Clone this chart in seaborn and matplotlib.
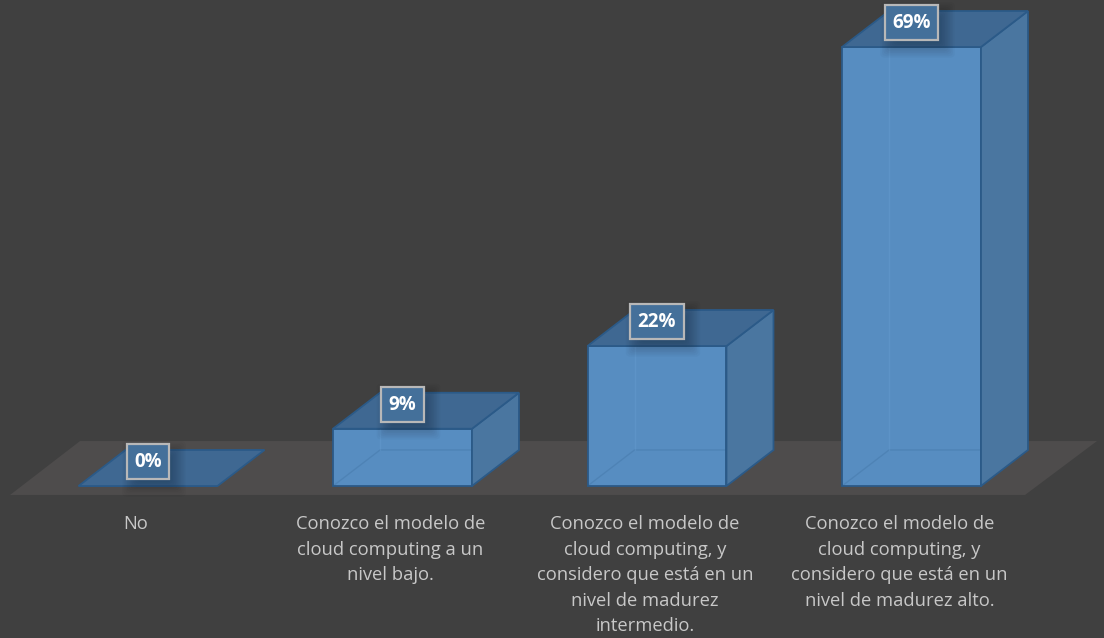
import matplotlib
matplotlib.use("Agg")
import matplotlib.pyplot as plt
from matplotlib.patches import Polygon, FancyBboxPatch
import seaborn as sns

# Survey answers and share of respondents (%)
categories = [
    "No",
    "Conozco el modelo de\ncloud computing a un\nnivel bajo.",
    "Conozco el modelo de\ncloud computing, y\nconsidero que está en un\nnivel de madurez\nintermedio.",
    "Conozco el modelo de\ncloud computing, y\nconsidero que está en un\nnivel de madurez alto.",
]
values = [0, 9, 22, 69]
value_labels = ["0%", "9%", "22%", "69%"]

BG = "#404040"
FLOOR = "#4E4C4C"
FRONT = "#578DC1"
TOP = "#3F6892"
SIDE = "#4A76A0"
EDGE = "#2B5A88"
TEXT = "#C8C8C8"

sns.set_theme(style="dark")
plt.rcParams["font.family"] = ["Open Sans", "DejaVu Sans"]

fig = plt.figure(figsize=(11.04, 6.38), dpi=100, facecolor=BG)
ax = fig.add_axes([0, 0, 1, 1])
ax.set_facecolor(BG)

bar_w = 0.546
# oblique depth of the 3-D extrusion, in data units
ddx, ddy = 0.1847, 5.66

sns.barplot(x=list(range(len(values))), y=values, ax=ax, color=FRONT,
            saturation=1, width=bar_w, edgecolor=EDGE, linewidth=1.3,
            zorder=3)
bars = list(ax.patches)

ax.set_xlim(-0.5815, 3.7564)
ax.set_ylim(-23.89, 76.39)
ax.axis("off")

# floor plane
ax.add_patch(Polygon([(-0.542, -1.41), (3.446, -1.41), (3.729, 7.07), (-0.267, 7.07)],
                     closed=True, facecolor=FLOOR, edgecolor="none", zorder=1))

renderer = fig.canvas.get_renderer()
inv = ax.transData.inverted()

for i, p in enumerate(bars):
    x0 = p.get_x()
    w = p.get_width()
    h = p.get_height()
    x1 = x0 + w
    # hidden back edges, faintly visible through the translucent box
    ax.plot([x0, x0 + ddx, x1 + ddx], [0, ddy, ddy], color=EDGE, lw=1.0,
            alpha=0.2, zorder=3.5)
    ax.plot([x0 + ddx, x0 + ddx], [ddy, h + ddy], color="#6FA6DA", lw=1.0,
            alpha=0.25, zorder=3.5)
    # side face
    if h > 0:
        ax.add_patch(Polygon([(x1, 0), (x1 + ddx, ddy), (x1 + ddx, h + ddy), (x1, h)],
                             closed=True, facecolor=SIDE, edgecolor=EDGE,
                             lw=1.3, zorder=4))
    # top face
    ax.add_patch(Polygon([(x0, h), (x1, h), (x1 + ddx, h + ddy), (x0 + ddx, h + ddy)],
                         closed=True, facecolor=TOP, edgecolor=EDGE,
                         lw=1.3, zorder=4))

    # value label in a framed box
    cx = x0 + w / 2
    cy = h + 3.8
    t = ax.text(cx, cy, value_labels[i], fontsize=13.5, fontweight="bold",
                color="white", ha="center", va="center", zorder=6,
                bbox=dict(boxstyle="square,pad=0.4", facecolor="#44709A",
                          edgecolor="#B8B8B8", linewidth=1.6))
    fig.canvas.draw()
    bb = t.get_bbox_patch().get_window_extent(renderer)
    # soft drop shadow beneath the label box
    for k in range(10):
        g = 1.6 * k - 4
        (ax_, ay_) = inv.transform((bb.x0 + 6 - g, bb.y0 - 7 - g))
        (bx_, by_) = inv.transform((bb.x1 + 6 + g, bb.y1 - 7 + g))
        ax.add_patch(FancyBboxPatch((ax_, ay_), bx_ - ax_, by_ - ay_,
                                    boxstyle="round,pad=0,rounding_size=0.02",
                                    mutation_aspect=30,
                                    facecolor="black", edgecolor="none",
                                    alpha=0.025, zorder=5))

    # category label under the floor
    ax.text(cx - 0.047, -4.6, categories[i], fontsize=13.2, color=TEXT,
            ha="center", va="top", linespacing=1.53, zorder=6)

fig.savefig("out.png", dpi=100, facecolor=BG)
